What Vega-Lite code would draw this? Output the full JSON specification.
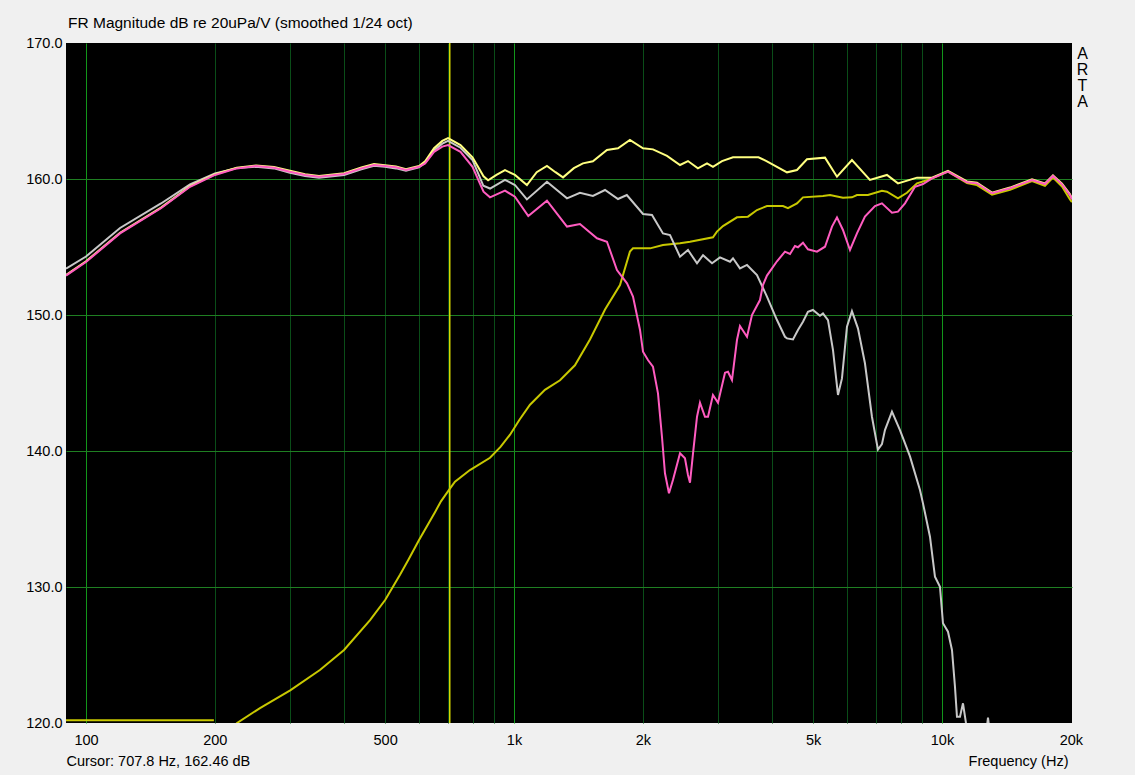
{
"$schema": "https://vega.github.io/schema/vega-lite/v6.json",
"width": 1006, "height": 680,
"autosize": {"type": "none"},
"padding": {"left": 66, "top": 43, "right": 63, "bottom": 52},
"background": "#f0f0f0",
"config": {
  "view": {"fill": "#000000", "stroke": null},
  "font": "Liberation Sans",
  "axis": {"labelFont": "Liberation Sans", "labelFontSize": 14.5, "labelColor": "#000000", "titleFont": "Liberation Sans", "titleFontSize": 14.5, "titleFontWeight": "normal", "titleColor": "#000000", "ticks": false, "domain": false, "labelFlush": false, "labelOverlap": false}
},
"title": {"text": "FR Magnitude dB re 20uPa/V (smoothed 1/24 oct)", "anchor": "start", "frame": "group", "fontSize": 15.5, "fontWeight": "normal", "font": "Liberation Sans", "color": "#000000", "offset": 4, "dx": 2},
"datasets": {
"c": [
{"s":"T0","f":89.8,"db":120.2},{"s":"T0","f":199,"db":120.2},
{"s":"T","f":215,"db":119.3},{"s":"T","f":225.4,"db":120.0},{"s":"T","f":255,"db":121.1},{"s":"T","f":300,"db":122.4},{"s":"T","f":352,"db":123.9},{"s":"T","f":400.8,"db":125.37},{"s":"T","f":461,"db":127.57},{"s":"T","f":500,"db":129.04},{"s":"T","f":541.6,"db":130.9},{"s":"T","f":566.2,"db":131.99},{"s":"T","f":600,"db":133.45},{"s":"T","f":653.7,"db":135.5},{"s":"T","f":675.1,"db":136.3},{"s":"T","f":707,"db":137.2},{"s":"T","f":728,"db":137.75},{"s":"T","f":789,"db":138.6},{"s":"T","f":879,"db":139.5},{"s":"T","f":930,"db":140.3},{"s":"T","f":979,"db":141.2},{"s":"T","f":1030,"db":142.3},{"s":"T","f":1090,"db":143.4},{"s":"T","f":1181,"db":144.5},{"s":"T","f":1281,"db":145.2},{"s":"T","f":1388,"db":146.3},{"s":"T","f":1505,"db":148.2},{"s":"T","f":1632,"db":150.4},{"s":"T","f":1769,"db":152.2},{"s":"T","f":1866,"db":154.66},{"s":"T","f":1897,"db":154.9},{"s":"T","f":2079,"db":154.9},{"s":"T","f":2229,"db":155.15},{"s":"T","f":2443,"db":155.27},{"s":"T","f":2578,"db":155.39},{"s":"T","f":2917,"db":155.71},{"s":"T","f":2980,"db":156.13},{"s":"T","f":3078,"db":156.54},{"s":"T","f":3319,"db":157.18},{"s":"T","f":3521,"db":157.23},{"s":"T","f":3696,"db":157.72},{"s":"T","f":3900,"db":158.01},{"s":"T","f":4251,"db":158.01},{"s":"T","f":4367,"db":157.85},{"s":"T","f":4583,"db":158.21},{"s":"T","f":4734,"db":158.65},{"s":"T","f":5272,"db":158.75},{"s":"T","f":5474,"db":158.82},{"s":"T","f":5870,"db":158.63},{"s":"T","f":6161,"db":158.65},{"s":"T","f":6329,"db":158.82},{"s":"T","f":6715,"db":158.82},{"s":"T","f":7240,"db":159.14},{"s":"T","f":7438,"db":159.07},{"s":"T","f":7892,"db":158.58},{"s":"T","f":8283,"db":158.99},{"s":"T","f":8742,"db":159.68},{"s":"T","f":9375,"db":159.98},{"s":"T","f":10328,"db":160.54},{"s":"T","f":11441,"db":159.7},{"s":"T","f":12074,"db":159.55},{"s":"T","f":13089,"db":158.85},{"s":"T","f":14418,"db":159.2},{"s":"T","f":16232,"db":159.85},{"s":"T","f":17403,"db":159.5},{"s":"T","f":18169,"db":160.1},{"s":"T","f":19077,"db":159.45},{"s":"T","f":19912,"db":158.5},{"s":"T","f":20128,"db":158.3},
{"s":"G","f":89.8,"db":153.4},{"s":"G","f":100,"db":154.3},{"s":"G","f":120.1,"db":156.4},{"s":"G","f":149.7,"db":158.2},{"s":"G","f":175,"db":159.6},{"s":"G","f":200.1,"db":160.4},{"s":"G","f":225,"db":160.8},{"s":"G","f":249.6,"db":160.9},{"s":"G","f":275,"db":160.78},{"s":"G","f":299.6,"db":160.45},{"s":"G","f":325,"db":160.22},{"s":"G","f":350.3,"db":160.1},{"s":"G","f":400.8,"db":160.3},{"s":"G","f":440,"db":160.72},{"s":"G","f":470.9,"db":160.97},{"s":"G","f":499.5,"db":160.9},{"s":"G","f":530,"db":160.78},{"s":"G","f":559.3,"db":160.6},{"s":"G","f":599.9,"db":160.85},{"s":"G","f":620,"db":161.2},{"s":"G","f":650.4,"db":162.1},{"s":"G","f":680,"db":162.6},{"s":"G","f":701.3,"db":162.8},{"s":"G","f":749.9,"db":162.3},{"s":"G","f":800,"db":161.4},{"s":"G","f":848,"db":159.5},{"s":"G","f":879.1,"db":159.3},{"s":"G","f":952.7,"db":159.93},{"s":"G","f":1005,"db":159.56},{"s":"G","f":1072,"db":158.5},{"s":"G","f":1194,"db":159.8},{"s":"G","f":1330,"db":158.58},{"s":"G","f":1426,"db":158.99},{"s":"G","f":1529,"db":158.75},{"s":"G","f":1632,"db":159.19},{"s":"G","f":1750,"db":158.53},{"s":"G","f":1835,"db":158.82},{"s":"G","f":2002,"db":157.43},{"s":"G","f":2101,"db":157.35},{"s":"G","f":2229,"db":156.0},{"s":"G","f":2315,"db":155.88},{"s":"G","f":2443,"db":154.29},{"s":"G","f":2550,"db":154.78},{"s":"G","f":2677,"db":153.8},{"s":"G","f":2765,"db":154.4},{"s":"G","f":2902,"db":153.8},{"s":"G","f":3029,"db":154.24},{"s":"G","f":3197,"db":153.92},{"s":"G","f":3249,"db":154.17},{"s":"G","f":3373,"db":153.43},{"s":"G","f":3503,"db":153.68},{"s":"G","f":3696,"db":152.94},{"s":"G","f":3900,"db":151.35},{"s":"G","f":4116,"db":149.63},{"s":"G","f":4297,"db":148.4},{"s":"G","f":4344,"db":148.28},{"s":"G","f":4486,"db":148.2},{"s":"G","f":4608,"db":148.9},{"s":"G","f":4734,"db":149.5},{"s":"G","f":4862,"db":150.24},{"s":"G","f":4995,"db":150.37},{"s":"G","f":5187,"db":149.95},{"s":"G","f":5272,"db":150.12},{"s":"G","f":5416,"db":149.63},{"s":"G","f":5563,"db":147.43},{"s":"G","f":5715,"db":144.12},{"s":"G","f":5839,"db":145.34},{"s":"G","f":5998,"db":149.14},{"s":"G","f":6161,"db":150.29},{"s":"G","f":6363,"db":149.02},{"s":"G","f":6607,"db":146.45},{"s":"G","f":6861,"db":142.52},{"s":"G","f":7086,"db":140.1},{"s":"G","f":7240,"db":140.5},{"s":"G","f":7358,"db":141.54},{"s":"G","f":7641,"db":142.9},{"s":"G","f":7977,"db":141.54},{"s":"G","f":8418,"db":139.6},{"s":"G","f":8884,"db":137.13},{"s":"G","f":9029,"db":136.15},{"s":"G","f":9375,"db":133.7},{"s":"G","f":9630,"db":130.76},{"s":"G","f":9893,"db":130.02},{"s":"G","f":10054,"db":127.33},{"s":"G","f":10328,"db":126.71},{"s":"G","f":10553,"db":125.37},{"s":"G","f":10724,"db":122.67},{"s":"G","f":10840,"db":120.46},{"s":"G","f":11017,"db":120.46},{"s":"G","f":11197,"db":121.45},{"s":"G","f":11441,"db":119.5},{"s":"G","f":11960,"db":117.0},{"s":"G","f":12600,"db":118.5},{"s":"G","f":12810,"db":120.4},{"s":"G","f":13020,"db":118.5},{"s":"G","f":13665,"db":116.0},
{"s":"Y","f":89.8,"db":152.95},{"s":"Y","f":100,"db":153.95},{"s":"Y","f":120.1,"db":156.05},{"s":"Y","f":149.7,"db":157.9},{"s":"Y","f":175,"db":159.48},{"s":"Y","f":200.1,"db":160.35},{"s":"Y","f":225,"db":160.83},{"s":"Y","f":249.6,"db":161.0},{"s":"Y","f":275,"db":160.88},{"s":"Y","f":299.6,"db":160.6},{"s":"Y","f":325,"db":160.35},{"s":"Y","f":350.3,"db":160.22},{"s":"Y","f":400.8,"db":160.42},{"s":"Y","f":440,"db":160.85},{"s":"Y","f":470.9,"db":161.1},{"s":"Y","f":499.5,"db":161.02},{"s":"Y","f":530,"db":160.92},{"s":"Y","f":559.3,"db":160.72},{"s":"Y","f":599.9,"db":160.95},{"s":"Y","f":620,"db":161.3},{"s":"Y","f":650.4,"db":162.26},{"s":"Y","f":680,"db":162.8},{"s":"Y","f":701.3,"db":163.0},{"s":"Y","f":749.9,"db":162.5},{"s":"Y","f":800,"db":161.6},{"s":"Y","f":848.9,"db":160.2},{"s":"Y","f":870,"db":159.9},{"s":"Y","f":910,"db":160.3},{"s":"Y","f":952.7,"db":160.66},{"s":"Y","f":1005,"db":160.3},{"s":"Y","f":1072,"db":159.56},{"s":"Y","f":1130,"db":160.5},{"s":"Y","f":1194,"db":160.96},{"s":"Y","f":1250,"db":160.5},{"s":"Y","f":1302,"db":160.12},{"s":"Y","f":1380,"db":160.8},{"s":"Y","f":1449,"db":161.15},{"s":"Y","f":1529,"db":161.3},{"s":"Y","f":1649,"db":162.13},{"s":"Y","f":1750,"db":162.26},{"s":"Y","f":1866,"db":162.87},{"s":"Y","f":2002,"db":162.26},{"s":"Y","f":2112,"db":162.18},{"s":"Y","f":2278,"db":161.7},{"s":"Y","f":2443,"db":161.03},{"s":"Y","f":2550,"db":161.32},{"s":"Y","f":2690,"db":160.78},{"s":"Y","f":2825,"db":161.15},{"s":"Y","f":2917,"db":160.9},{"s":"Y","f":3062,"db":161.32},{"s":"Y","f":3249,"db":161.6},{"s":"Y","f":3726,"db":161.6},{"s":"Y","f":3900,"db":161.3},{"s":"Y","f":4344,"db":160.49},{"s":"Y","f":4583,"db":160.66},{"s":"Y","f":4836,"db":161.45},{"s":"Y","f":5329,"db":161.57},{"s":"Y","f":5684,"db":160.17},{"s":"Y","f":6161,"db":161.4},{"s":"Y","f":6787,"db":159.93},{"s":"Y","f":7438,"db":160.3},{"s":"Y","f":7892,"db":159.68},{"s":"Y","f":8742,"db":160.1},{"s":"Y","f":9477,"db":160.1},{"s":"Y","f":10328,"db":160.6},{"s":"Y","f":11441,"db":159.82},{"s":"Y","f":12074,"db":159.73},{"s":"Y","f":13089,"db":159.0},{"s":"Y","f":14418,"db":159.37},{"s":"Y","f":16232,"db":159.98},{"s":"Y","f":17403,"db":159.68},{"s":"Y","f":18169,"db":160.27},{"s":"Y","f":19077,"db":159.66},{"s":"Y","f":19912,"db":158.87},{"s":"Y","f":20128,"db":158.55},
{"s":"P","f":89.8,"db":152.9},{"s":"P","f":100,"db":153.9},{"s":"P","f":120.1,"db":156.0},{"s":"P","f":149.7,"db":157.85},{"s":"P","f":175,"db":159.43},{"s":"P","f":200.1,"db":160.3},{"s":"P","f":225,"db":160.78},{"s":"P","f":249.6,"db":160.96},{"s":"P","f":275,"db":160.83},{"s":"P","f":299.6,"db":160.54},{"s":"P","f":325,"db":160.3},{"s":"P","f":350.3,"db":160.17},{"s":"P","f":400.8,"db":160.37},{"s":"P","f":440,"db":160.78},{"s":"P","f":470.9,"db":161.03},{"s":"P","f":499.5,"db":160.96},{"s":"P","f":530,"db":160.86},{"s":"P","f":559.3,"db":160.66},{"s":"P","f":599.9,"db":160.9},{"s":"P","f":620,"db":161.15},{"s":"P","f":650.4,"db":162.0},{"s":"P","f":680,"db":162.38},{"s":"P","f":701.3,"db":162.5},{"s":"P","f":749.9,"db":162.0},{"s":"P","f":800,"db":160.9},{"s":"P","f":848.9,"db":159.07},{"s":"P","f":879.1,"db":158.65},{"s":"P","f":952.7,"db":159.14},{"s":"P","f":1005,"db":158.7},{"s":"P","f":1080,"db":157.28},{"s":"P","f":1194,"db":158.4},{"s":"P","f":1330,"db":156.5},{"s":"P","f":1426,"db":156.69},{"s":"P","f":1563,"db":155.64},{"s":"P","f":1649,"db":155.39},{"s":"P","f":1740,"db":153.31},{"s":"P","f":1837,"db":152.33},{"s":"P","f":1897,"db":151.35},{"s":"P","f":1970,"db":148.9},{"s":"P","f":2002,"db":147.3},{"s":"P","f":2056,"db":146.69},{"s":"P","f":2112,"db":146.2},{"s":"P","f":2170,"db":144.24},{"s":"P","f":2217,"db":141.05},{"s":"P","f":2253,"db":138.36},{"s":"P","f":2302,"db":136.89},{"s":"P","f":2352,"db":137.87},{"s":"P","f":2443,"db":139.83},{"s":"P","f":2509,"db":139.46},{"s":"P","f":2550,"db":138.24},{"s":"P","f":2578,"db":137.67},{"s":"P","f":2620,"db":139.83},{"s":"P","f":2677,"db":142.52},{"s":"P","f":2720,"db":143.55},{"s":"P","f":2794,"db":142.52},{"s":"P","f":2840,"db":142.52},{"s":"P","f":2917,"db":144.12},{"s":"P","f":2997,"db":143.55},{"s":"P","f":3112,"db":145.76},{"s":"P","f":3162,"db":145.83},{"s":"P","f":3231,"db":145.22},{"s":"P","f":3319,"db":148.16},{"s":"P","f":3373,"db":149.19},{"s":"P","f":3503,"db":148.4},{"s":"P","f":3598,"db":150.0},{"s":"P","f":3756,"db":151.1},{"s":"P","f":3817,"db":152.2},{"s":"P","f":3900,"db":152.9},{"s":"P","f":4116,"db":153.95},{"s":"P","f":4297,"db":154.66},{"s":"P","f":4415,"db":154.49},{"s":"P","f":4534,"db":155.07},{"s":"P","f":4608,"db":154.98},{"s":"P","f":4734,"db":155.32},{"s":"P","f":4862,"db":154.83},{"s":"P","f":5104,"db":154.66},{"s":"P","f":5329,"db":155.02},{"s":"P","f":5534,"db":156.5},{"s":"P","f":5684,"db":157.18},{"s":"P","f":5870,"db":156.25},{"s":"P","f":6096,"db":154.78},{"s":"P","f":6329,"db":156.0},{"s":"P","f":6607,"db":157.23},{"s":"P","f":6973,"db":158.01},{"s":"P","f":7240,"db":158.21},{"s":"P","f":7641,"db":157.52},{"s":"P","f":7892,"db":157.6},{"s":"P","f":8195,"db":158.21},{"s":"P","f":8648,"db":159.43},{"s":"P","f":9029,"db":159.63},{"s":"P","f":9477,"db":160.05},{"s":"P","f":10328,"db":160.54},{"s":"P","f":11441,"db":159.76},{"s":"P","f":12074,"db":159.68},{"s":"P","f":13089,"db":158.95},{"s":"P","f":14418,"db":159.32},{"s":"P","f":16232,"db":159.93},{"s":"P","f":17403,"db":159.63},{"s":"P","f":18169,"db":160.22},{"s":"P","f":19077,"db":159.61},{"s":"P","f":19912,"db":158.82},{"s":"P","f":20128,"db":158.5}
]
},
"data": {"name": "c"},
"encoding": {
  "x": {"field": "f", "type": "quantitative",
    "scale": {"type": "log", "domain": [89.8, 20128], "nice": false, "zero": false},
    "axis": {
      "values": [100,200,300,400,500,600,700,800,900,1000,2000,3000,4000,5000,6000,7000,8000,9000,10000,20000],
      "labelExpr": "indexof([100,200,500], datum.value) >= 0 ? datum.value + '' : (indexof([1000,2000,5000,10000,20000], datum.value) >= 0 ? (datum.value/1000) + 'k' : '')",
      "labelPadding": 10,
      "grid": true,
      "gridColor": {"condition": [{"test": "datum.value == 20000", "value": "transparent"}, {"test": "datum.value == 100 || datum.value == 1000 || datum.value == 10000", "value": "#12961a"}], "value": "#0a4d18"},
      "gridWidth": 1,
      "title": "Frequency (Hz)", "titleAlign": "right", "titleBaseline": "alphabetic", "titleX": 1002, "titleY": 42
    }
  }
},
"resolve": {"axis": {"y": "independent"}},
"layer": [
  {"data": {"values": [{"f": 707.8}]}, "mark": {"type": "rule", "color": "#d6d600", "strokeWidth": 1.5}},
  {"transform": [{"filter": "datum.s == 'T0'"}],
   "mark": {"type": "line", "color": "#c8c800", "strokeWidth": 2, "clip": true},
   "encoding": {"y": {"field": "db", "type": "quantitative", "scale": {"domain": [120, 170], "nice": false, "zero": false},
     "axis": {"orient": "left", "values": [120,130,140,150,160,170], "format": ".1f", "labelPadding": 4,
       "grid": true, "gridColor": {"condition": {"test": "datum.value == 120 || datum.value == 170", "value": "transparent"}, "value": "#1f7f22"},
       "title": "Cursor: 707.8 Hz, 162.46 dB", "titleAngle": 0, "titleAlign": "left", "titleBaseline": "alphabetic", "titleX": 0, "titleY": 722}}}},
  {"transform": [{"filter": "datum.s == 'T'"}],
   "mark": {"type": "line", "color": "#c8c800", "strokeWidth": 2, "clip": true},
   "encoding": {"y": {"field": "db", "type": "quantitative", "axis": null}}},
  {"transform": [{"filter": "datum.s == 'G'"}],
   "mark": {"type": "line", "color": "#c8c8c8", "strokeWidth": 2, "clip": true},
   "encoding": {"y": {"field": "db", "type": "quantitative", "axis": null}}},
  {"transform": [{"filter": "datum.s == 'Y'"}],
   "mark": {"type": "line", "color": "#ffff80", "strokeWidth": 2, "clip": true},
   "encoding": {"y": {"field": "db", "type": "quantitative", "axis": null}}},
  {"transform": [{"filter": "datum.s == 'P'"}],
   "mark": {"type": "line", "color": "#ff5cc0", "strokeWidth": 2, "clip": true},
   "encoding": {"y": {"field": "db", "type": "quantitative",
     "axis": {"orient": "right", "labels": false, "grid": false, "title": ["A", "R", "T", "A"], "titleFontSize": 16, "titleAngle": 0, "titleAlign": "center", "titleBaseline": "alphabetic", "titleX": 10, "titleY": 15, "titleLineHeight": 16}}}}
]
}
